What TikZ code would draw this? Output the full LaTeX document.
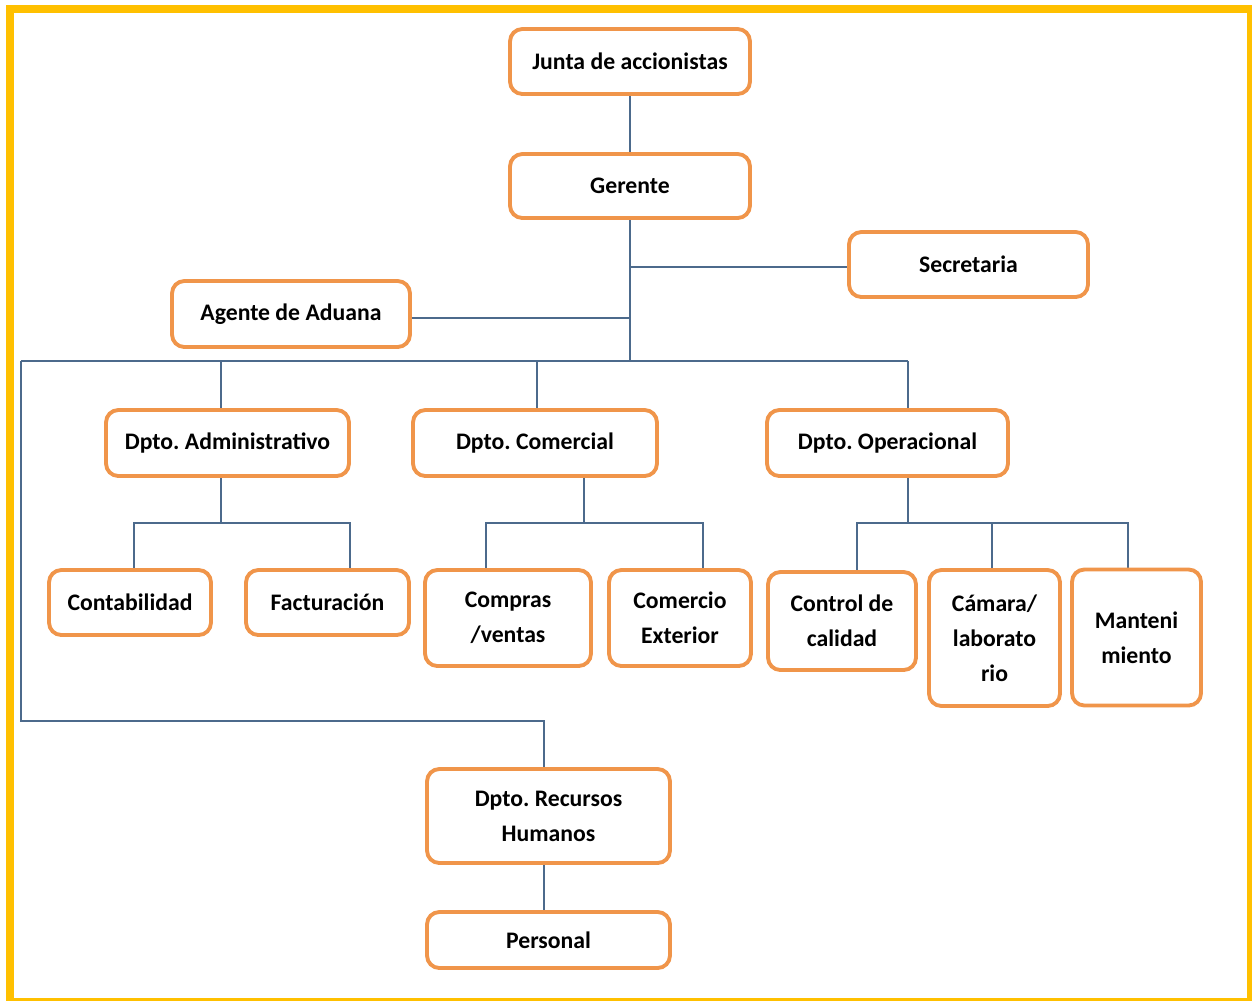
\documentclass[tikz,border=0pt]{standalone}
\usepackage{fontspec}
\setmainfont{Carlito}
\frenchspacing
\usetikzlibrary{backgrounds}
\definecolor{boxorange}{HTML}{F0954A}
\definecolor{linkblue}{HTML}{4C6A8C}
\definecolor{framegold}{HTML}{FFC000}
\begin{document}
\begin{tikzpicture}[x=0.02cm,y=-0.02cm,
  box/.style={draw=boxorange,line width=2.2pt,rounded corners=7pt,fill=white,
    align=center,inner sep=2pt,font=\bfseries\fontsize{13.5}{20}\selectfont},
  link/.style={draw=linkblue,line width=0.7pt},
  frame/.style={draw=framegold,line width=4.5pt}]
\useasboundingbox (0,0) rectangle (1252,1001);

% top of the chart
\node[box,minimum width=4.8cm,minimum height=1.3cm] (junta) at (630,61.5) {Junta de accionistas};
\node[box,minimum width=4.8cm,minimum height=1.28cm] (gerente) at (630,186) {Gerente};
\node[box,minimum width=4.78cm,minimum height=1.3cm] (secretaria) at (968.5,264.5) {Secretaria};
\node[box,minimum width=4.76cm,minimum height=1.32cm] (agente) at (291,314) {Agente de Aduana};

% departments
\node[box,minimum width=4.86cm,minimum height=1.32cm] (admin) at (227.5,443) {Dpto. Administrativo};
\node[box,minimum width=4.88cm,minimum height=1.32cm] (comercial) at (535,443) {Dpto. Comercial};
\node[box,minimum width=4.82cm,minimum height=1.32cm] (operacional) at (887.5,443) {Dpto. Operacional};

% sections
\node[box,minimum width=3.24cm,minimum height=1.3cm] (contab) at (130,602.5) {Contabilidad};
\node[box,minimum width=3.26cm,minimum height=1.3cm] (factur) at (327.5,602.5) {Facturación};
\node[box,minimum width=3.32cm,minimum height=1.92cm] (compras) at (508,618) {Compras\\/ventas};
\node[box,minimum width=2.84cm,minimum height=1.92cm] (comercio) at (680,618) {Comercio\\Exterior};
\node[box,minimum width=2.96cm,minimum height=1.96cm] (control) at (842,621) {Control de\\calidad};
\node[box,minimum width=2.62cm,minimum height=2.72cm] (camara) at (994.5,638) {Cámara/\\laborato\\rio};
\node[box,minimum width=2.58cm,minimum height=2.72cm] (mant) at (1136.5,637.5) {Manteni\\miento};

% human resources
\node[box,minimum width=4.86cm,minimum height=1.88cm] (rrhh) at (548.5,816) {Dpto. Recursos\\Humanos};
\node[box,minimum width=4.86cm,minimum height=1.12cm] (personal) at (548.5,940) {Personal};

% junction points of the connectors
\coordinate (hub) at (630,361);
\coordinate (hSec) at (630,267);
\coordinate (hAge) at (630,318);
\coordinate (busL) at (21,361);
\coordinate (dA) at (221,361);
\coordinate (dC) at (537,361);
\coordinate (busR) at (908,361);
\coordinate (jA) at (221,523);
\coordinate (jA1) at (134,523);
\coordinate (jA2) at (350,523);
\coordinate (jC) at (584,523);
\coordinate (jC1) at (486,523);
\coordinate (jC2) at (703,523);
\coordinate (jO) at (908,523);
\coordinate (jO1) at (857,523);
\coordinate (jO2) at (992,523);
\coordinate (jO3) at (1128,523);
\coordinate (rL) at (21,721);
\coordinate (rR) at (544,721);

\begin{scope}[on background layer]
\fill[white] (0,0) rectangle (1252,1001);
\draw[frame] (10,9) rectangle (1251,1001.5);
\draw[link] (junta) -- (gerente);
\draw[link] (gerente.south) -- (hub);
\draw[link] (hSec) -- (hSec -| secretaria.west);
\draw[link] (hAge) -- (hAge -| agente.east);
\draw[link] (busL) -- (busR);
\draw[link] (dA) -- (dA |- admin.north);
\draw[link] (dC) -- (dC |- comercial.north);
\draw[link] (busR) -- (busR |- operacional.north);
% administrative sections
\draw[link] (admin.south -| jA) -- (jA);
\draw[link] (jA1 |- contab.north) -- (jA1) -- (jA2) -- (jA2 |- factur.north);
% commercial sections
\draw[link] (comercial.south -| jC) -- (jC);
\draw[link] (jC1 |- compras.north) -- (jC1) -- (jC2) -- (jC2 |- comercio.north);
% operational sections
\draw[link] (operacional.south -| jO) -- (jO);
\draw[link] (jO1 |- control.north) -- (jO1) -- (jO3) -- (jO3 |- mant.north);
\draw[link] (jO2) -- (jO2 |- camara.north);
% human resources
\draw[link] (busL) -- (rL) -- (rR) -- (rR |- rrhh.north);
\draw[link] (rrhh.south -| rR) -- (personal.north -| rR);
\end{scope}
\end{tikzpicture}
\end{document}
